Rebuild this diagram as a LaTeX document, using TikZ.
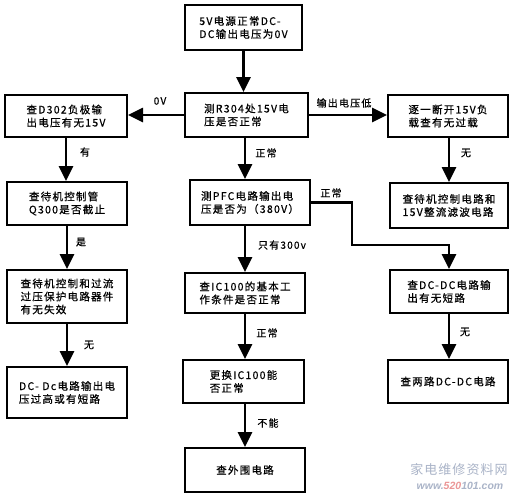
\documentclass[tikz,border=0pt]{standalone}
\usepackage{fontspec}
\setmainfont{Liberation Sans}
\newfontfamily\cjk[LetterSpace=12,FakeBold=0.6]{Noto Sans CJK SC}
\newfontfamily\markfont[LetterSpace=8]{Noto Sans CJK SC}
\usetikzlibrary{arrows.meta}
\definecolor{markgray}{RGB}{170,180,200}
\definecolor{markred}{RGB}{235,150,150}
\tikzset{
	boxstyle/.style={rectangle,draw=black,line width=2pt,fill=white,minimum width=120pt,minimum height=43pt,align=left,inner sep=3pt,font=\cjk\fontsize{10.5}{13}\selectfont},
	labelstyle/.style={font=\cjk\fontsize{10}{12}\selectfont,inner sep=1pt},
	arr/.style={line width=2.6pt,-{Triangle[width=14pt,length=15pt]}}
}
\begin{document}
\begin{tikzpicture}[x=1pt,y=-1pt]
	\useasboundingbox[fill=white] (0,0) rectangle (523,498);
	% boxes
	\node[boxstyle,minimum width=117pt,minimum height=45pt] (b1) at (243.5,27.5) {5V电源正常DC-\\DC输出电压为0V};
	\node[boxstyle,minimum width=123pt,minimum height=44pt] (b2) at (246.5,115) {测R304处15V电\\压是否正常};
	\node[boxstyle,minimum width=122pt,minimum height=42pt] (l1) at (66,116) {查D302负极输\\出电压有无15V};
	\node[boxstyle,minimum height=42pt] (r1) at (448,116) {逐一断开15V负\\载查有无过载};
	\node[boxstyle] (l2) at (67,203.5) {查待机控制管\\Q300是否截止};
	\node[boxstyle,minimum height=45pt] (c2) at (250,202.5) {测PFC电路输出电\\压是否为（380V）};
	\node[boxstyle,minimum width=118pt,minimum height=45pt] (r2) at (449,205.5) {查待机控制电路和\\15V整流滤波电路};
	\node[boxstyle,minimum height=53pt] (l3) at (67,296.5) {查待机控制和过流\\过压保护电路器件\\有无失效};
	\node[boxstyle,minimum height=40pt] (c3) at (245,293) {查IC100的基本工\\作条件是否正常};
	\node[boxstyle,minimum width=118pt] (r3) at (449,291.5) {查DC-DC电路输\\出有无短路};
	\node[boxstyle,minimum height=51pt] (l4) at (67,392.5) {DC- Dc电路输出电\\压过高或有短路};
	\node[boxstyle,minimum width=121pt] (c4) at (243.5,381.5) {更换IC100能\\否正常};
	\node[boxstyle] (r4) at (448,381.5) {查两路DC-DC电路};
	\node[boxstyle,minimum height=44pt] (c5) at (245,470) {查外围电路};
	\coordinate (k1) at (352,245);
	% arrows
	\draw[arr] (b1.south) -- (b1.south |- b2.north);
	\draw[arr] (b2.west) -- (b2.west -| l1.east);
	\draw[arr] (b2.east) -- (b2.east -| r1.west);
	\draw[arr] (l1.south) -- (l1.south |- l2.north);
	\draw[arr] (b2.south -| c3.north) -- (c2.north -| c3.north);
	\draw[arr] (r1.south -| r2.north) -- (r2.north);
	\draw[arr] (l2.south) -- (l3.north);
	\draw[arr] (c2.south -| c3.north) -- (c3.north);
	\draw[arr] (c2.east) -| (k1) -| (r3.north);
	\draw[arr] (l3.south) -- (l4.north);
	\draw[arr] (c3.south) -- (c3.south |- c4.north);
	\draw[arr] (r3.south) -- (r3.south |- r4.north);
	\draw[arr] (c4.south -| c5.north) -- (c5.north);
	% labels
	\node[labelstyle] (t1) at (160,101) {0V};
	\node[labelstyle] (t2) at (344,103) {输出电压低};
	\node[labelstyle] (t3) at (85,152) {有};
	\node[labelstyle] (t4) at (266,153) {正常};
	\node[labelstyle] (t5) at (466,153) {无};
	\node[labelstyle] (t6) at (331,193) {正常};
	\node[labelstyle] (t7) at (81,242) {是};
	\node[labelstyle] (t8) at (282,245) {只有300v};
	\node[labelstyle] (t9) at (89,345) {无};
	\node[labelstyle] (t10) at (267,333) {正常};
	\node[labelstyle] (t11) at (465,332) {无};
	\node[labelstyle] (t12) at (268,423) {不能};
	% watermark
	\node[font=\markfont\fontsize{13}{14}\selectfont,text=markgray,inner sep=0pt] (w1) at (459,470) {家电维修资料网};
	\node[font=\bfseries\itshape\fontsize{10.5}{11}\selectfont,text=markgray,inner sep=0pt] (w2) at (460,486) {www.\textcolor{markred}{520}101.com};
\end{tikzpicture}
\end{document}
